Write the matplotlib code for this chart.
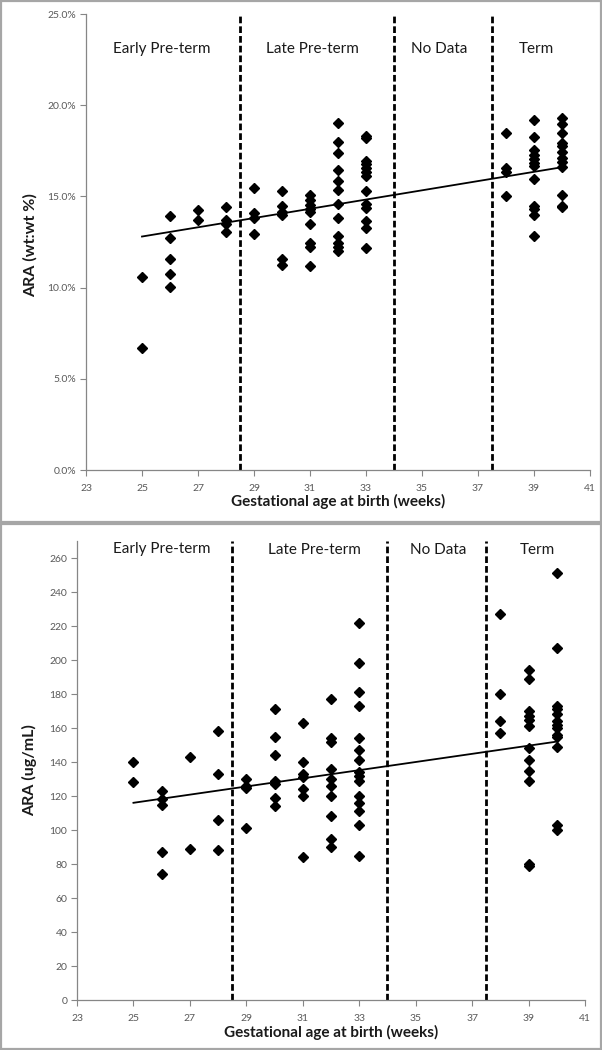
import numpy as np
import matplotlib
matplotlib.use("Agg")
import matplotlib.pyplot as plt
from matplotlib.patches import Rectangle
from matplotlib.ticker import FuncFormatter, MultipleLocator

plt.rcParams['font.family'] = ['Lato', 'DejaVu Sans']

# ---------------- data ----------------
# Top panel: ARA (wt:wt %)
top_weeks = ([25]*2 + [26]*5 + [27]*2 + [28]*4 + [29]*4 + [30]*6 + [31]*9 +
             [32]*12 + [33]*13 + [38]*4 + [39]*12 + [40]*12)
top_values = [10.6, 6.7,
              13.95, 12.7, 11.55, 10.75, 10.05,
              14.25, 13.7,
              14.4, 13.7, 13.5, 13.05,
              15.45, 14.1, 13.8, 12.95,
              15.3, 14.5, 14.15, 14.0, 11.55, 11.25,
              15.05, 14.8, 14.55, 14.3, 14.15, 13.5, 12.45, 12.2, 11.2,
              19.0, 18.0, 17.4, 16.45, 15.85, 15.35, 14.6, 13.8, 12.85, 12.45, 12.2, 12.0,
              18.3, 18.2, 16.95, 16.75, 16.55, 16.35, 16.1, 15.3, 14.6, 14.35, 13.65, 13.25, 12.15,
              18.45, 16.55, 16.35, 15.0,
              19.2, 18.25, 17.55, 17.25, 17.05, 16.85, 16.65, 15.95, 14.45, 14.3, 14.0, 12.85,
              19.3, 18.95, 18.5, 17.95, 17.75, 17.45, 17.1, 16.9, 16.6, 15.1, 14.5, 14.4]
# trendline as drawn in the reference (value at first and last week)
top_trend_weeks = [25, 40]
top_trend_values = [12.8, 16.6]

# Bottom panel: ARA (ug/mL)
bot_weeks = ([25]*2 + [26]*5 + [27]*2 + [28]*4 + [29]*4 + [30]*7 + [31]*7 +
             [32]*10 + [33]*15 + [38]*4 + [39]*12 + [40]*13)
bot_values = [140, 128,
              123, 118, 115, 87, 74,
              143, 89,
              158, 133, 106, 88,
              130, 126, 125, 101,
              171, 155, 144, 129, 127, 119, 114,
              163, 140, 133, 131, 124, 120, 84,
              177, 154, 152, 136, 130, 126, 120, 108, 95, 90,
              222, 198, 181, 173, 154, 147, 141, 134, 132, 129, 120, 116, 111, 103, 85,
              227, 180, 164, 157,
              194, 189, 170, 167, 165, 161, 148, 141, 135, 129, 80, 79,
              251, 207, 173, 171, 168, 164, 162, 160, 156, 155, 149, 103, 100]
bot_trend_weeks = [25, 40]
bot_trend_values = [116, 152]

period_labels = ["Early Pre-term", "Late Pre-term", "No Data", "Term"]
period_bounds = [28.5, 34, 37.5]
x_ticks = [23, 25, 27, 29, 31, 33, 35, 37, 39, 41]

# ---------------- figure ----------------
W, H = 602, 1050
fig = plt.figure(figsize=(W/100, H/100), dpi=100)

def px_rect(l, t, r, b):
    return [l/W, 1 - b/H, (r-l)/W, (b-t)/H]

# panel frames
for (t, b) in [(1, 522), (524, 1049)]:
    fig.patches.append(Rectangle((1/W, 1 - b/H), (W-2)/W, (b-t)/H,
                                 transform=fig.transFigure, fill=False,
                                 edgecolor='#a6a6a6', linewidth=1.6))

axis_col = '#868686'
tick_col = '#595959'

def style_axes(ax):
    for s in ['top', 'right']:
        ax.spines[s].set_visible(False)
    for s in ['left', 'bottom']:
        ax.spines[s].set_color(axis_col)
        ax.spines[s].set_linewidth(0.9)
    ax.tick_params(axis='both', direction='out', length=4, width=0.8,
                   color=axis_col, labelcolor=tick_col, labelsize=7.5, pad=3)
    ax.tick_params(axis='x', pad=6)
    ax.set_xlim(23, 41)
    ax.set_xticks(x_ticks)
    ax.set_facecolor('none')

def draw_panel(ax, weeks, values, tw, tv, ytop, label_y, label_xs):
    ax.plot(weeks, values, linestyle='none', marker='D', markersize=5.2,
            color='black', clip_on=False, zorder=4)
    ax.plot(tw, tv, color='black', linewidth=1.3, zorder=3)
    for xb in period_bounds:
        ax.plot([xb, xb], [0, ytop], color='black', linewidth=2.0,
                linestyle=(0, (2.4, 1.1)), clip_on=False, zorder=2)
    for lab, lx in zip(period_labels, label_xs):
        ax.text(lx, label_y, lab, ha='center', va='center', fontsize=11,
                color='#1a1a1a', clip_on=False)

# top panel
ax1 = fig.add_axes(px_rect(86, 14, 590, 470))
style_axes(ax1)
ax1.set_ylim(0, 25)
ax1.yaxis.set_major_locator(MultipleLocator(5))
ax1.yaxis.set_major_formatter(FuncFormatter(lambda v, p: f"{v:.1f}%"))
draw_panel(ax1, top_weeks, top_values, top_trend_weeks, top_trend_values,
           24.9, 23.1, [25.7, 31.1, 35.6, 39.1])
fig.text(30/W, 1 - 245/H, "ARA (wt:wt %)", rotation=90, ha='center', va='center',
         fontsize=11.5, fontweight='bold', color='#1a1a1a')
fig.text(338/W, 1 - 501/H, "Gestational age at birth (weeks)", ha='center', va='center',
         fontsize=11, fontweight='bold', color='#1a1a1a')

# bottom panel
ax2 = fig.add_axes(px_rect(77, 541, 585, 1000))
style_axes(ax2)
ax2.set_ylim(0, 270)
ax2.set_yticks(np.arange(0, 261, 20))
draw_panel(ax2, bot_weeks, bot_values, bot_trend_weeks, bot_trend_values,
           270, 265, [26.0, 31.4, 35.8, 39.3])
fig.text(30/W, 1 - 770/H, "ARA (ug/mL)", rotation=90, ha='center', va='center',
         fontsize=11.5, fontweight='bold', color='#1a1a1a')
fig.text(331/W, 1 - 1032/H, "Gestational age at birth (weeks)", ha='center', va='center',
         fontsize=11, fontweight='bold', color='#1a1a1a')

fig.savefig("out.png", dpi=100)
